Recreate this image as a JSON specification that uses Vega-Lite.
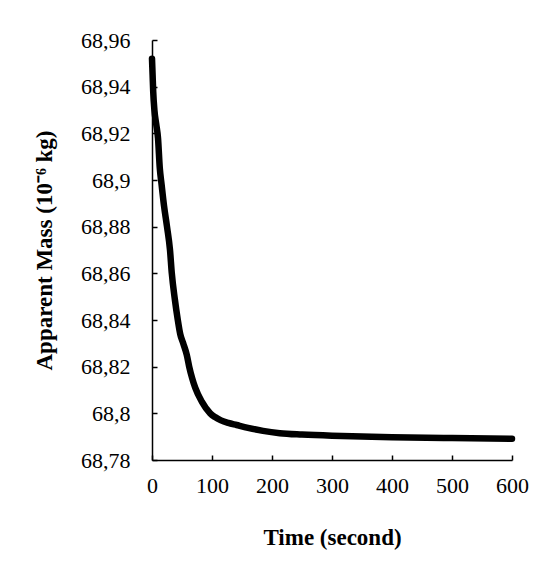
{
  "$schema": "https://vega.github.io/schema/vega-lite/v6.json",
  "autosize": "none",
  "width": 360,
  "height": 420,
  "padding": {"left": 152, "top": 40, "right": 45, "bottom": 111},
  "background": "white",
  "config": {
    "view": {"stroke": null},
    "font": "Liberation Serif",
    "axis": {
      "grid": false,
      "domainColor": "black",
      "domainWidth": 1.5,
      "tickColor": "black",
      "tickWidth": 1.5,
      "tickSize": -5,
      "labelColor": "black",
      "labelFont": "Liberation Serif",
      "labelFontSize": 22,
      "labelFlush": false,
      "labelOverlap": false,
      "titleFont": "Liberation Serif",
      "titleFontSize": 23,
      "titleFontWeight": "bold",
      "titleColor": "black"
    }
  },
  "data": {
    "values": [
      {"t": 0, "m": 68.952},
      {"t": 1, "m": 68.945},
      {"t": 2, "m": 68.938},
      {"t": 4, "m": 68.930},
      {"t": 7, "m": 68.924},
      {"t": 10, "m": 68.918},
      {"t": 13, "m": 68.905},
      {"t": 16, "m": 68.898},
      {"t": 20, "m": 68.889},
      {"t": 25, "m": 68.880},
      {"t": 30, "m": 68.870},
      {"t": 33, "m": 68.860},
      {"t": 38, "m": 68.849},
      {"t": 43, "m": 68.840},
      {"t": 47, "m": 68.834},
      {"t": 52, "m": 68.830},
      {"t": 58, "m": 68.825},
      {"t": 62, "m": 68.820},
      {"t": 67, "m": 68.815},
      {"t": 72, "m": 68.811},
      {"t": 83, "m": 68.805},
      {"t": 97, "m": 68.800},
      {"t": 105, "m": 68.7984},
      {"t": 115, "m": 68.797},
      {"t": 127, "m": 68.7959},
      {"t": 141, "m": 68.795},
      {"t": 160, "m": 68.7938},
      {"t": 185, "m": 68.7925},
      {"t": 213, "m": 68.7915},
      {"t": 250, "m": 68.7909},
      {"t": 300, "m": 68.7904},
      {"t": 350, "m": 68.7901},
      {"t": 400, "m": 68.7898},
      {"t": 500, "m": 68.7894},
      {"t": 600, "m": 68.7891}
    ]
  },
  "mark": {"type": "line", "color": "black", "strokeWidth": 6.5, "strokeCap": "round", "strokeJoin": "round", "interpolate": "monotone"},
  "encoding": {
    "x": {
      "field": "t", "type": "quantitative",
      "scale": {"domain": [0, 600], "nice": false},
      "axis": {"values": [0, 100, 200, 300, 400, 500, 600], "title": "Time (second)", "labelPadding": 20, "titlePadding": 30}
    },
    "y": {
      "field": "m", "type": "quantitative",
      "scale": {"domain": [68.78, 68.96], "nice": false, "zero": false},
      "axis": {
        "values": [68.78, 68.8, 68.82, 68.84, 68.86, 68.88, 68.9, 68.92, 68.94, 68.96],
        "labelExpr": "replace(format(datum.value, '.2~f'), '.', ',')",
        "title": "Apparent Mass (10⁻⁶  kg)",
        "labelPadding": 27,
        "titlePadding": 24
      }
    }
  }
}
